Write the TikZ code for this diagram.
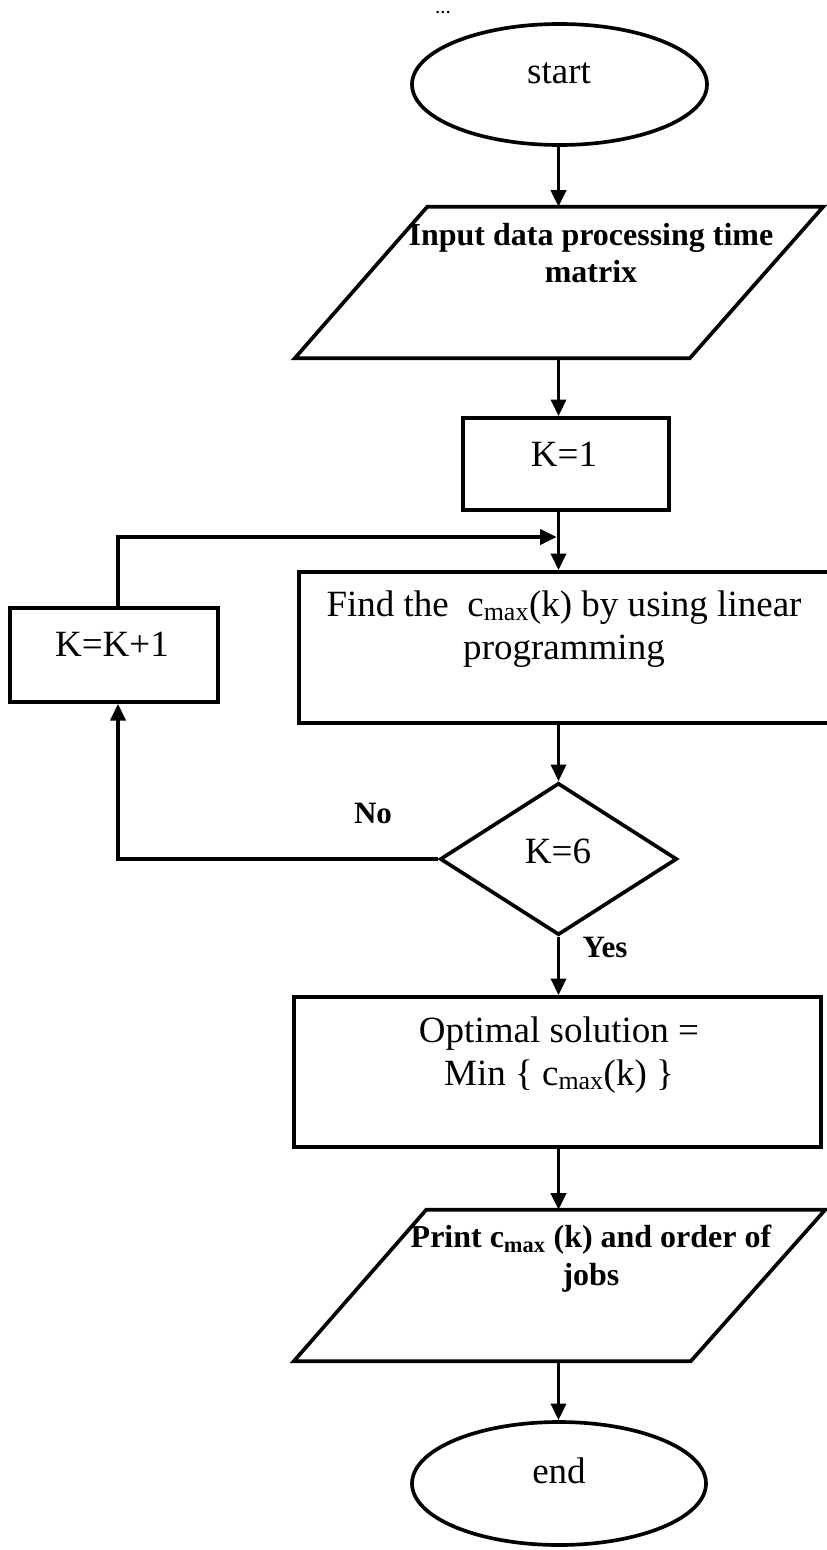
\documentclass[tikz,border=0pt]{standalone}
\usepackage{fontspec}
\setmainfont{Liberation Serif}
\usetikzlibrary{shapes.geometric,arrows.meta}
\newlength{\px}\setlength{\px}{0.03cm}
\tikzset{
  stroke/.style={line width=0.11cm},
  flow/.style={stroke, -{Triangle[length=0.5cm,width=0.45cm]}},
  termbox/.style={ellipse, draw, stroke, inner sep=0pt},
  procbox/.style={rectangle, draw, stroke, inner sep=0pt},
  ioframe/.style={rectangle, inner sep=0pt},
  testbox/.style={diamond, draw, stroke, inner sep=0pt},
  plain/.style={font=\fontsize{31.6pt}{36.7pt}\selectfont, inner sep=0pt, anchor=base, align=center},
  heavy/.style={font=\bfseries\fontsize{27.3pt}{31.6pt}\selectfont, inner sep=0pt, anchor=base, align=center},
  tag/.style={font=\bfseries\fontsize{26.5pt}{30pt}\selectfont, inner sep=0pt, anchor=base},
}
\begin{document}
\begin{tikzpicture}[x=0.03cm, y=-0.03cm]
\useasboundingbox (0,0) rectangle (826,1550);
\coordinate (axis) at (558.5,0);
\coordinate (loop) at (118,0);
\coordinate (merge) at (556.8,537);

% shapes
\node[termbox, minimum width=295\px, minimum height=121\px] (start) at (559.5,84.5) {};
\node[ioframe, minimum width=528\px, minimum height=151\px] (input) at (559,282.5) {};
\draw[stroke, line join=miter] (input.south west) -- ++(395,0) -- (input.north east) -- ++(-396,0) -- cycle;
\node[procbox, minimum width=206\px, minimum height=92\px] (k1) at (566,464) {};
\node[procbox, minimum width=530\px, minimum height=151\px] (find) at (564,647.5) {};
\node[procbox, minimum width=208\px, minimum height=94\px] (inc) at (114,655) {};
\node[testbox, minimum width=237\px, minimum height=152\px] (dec) at (558.5,859) {};
\node[procbox, minimum width=527\px, minimum height=150\px] (opt) at (557.5,1072) {};
\node[ioframe, minimum width=531\px, minimum height=151\px] (print) at (559.5,1285.5) {};
\draw[stroke, line join=miter] (print.south west) -- ++(397,0) -- (print.north east) -- ++(-399,0) -- cycle;
\node[termbox, minimum width=294\px, minimum height=123\px] (end) at (559,1483.5) {};

% texts (multi-line nodes sit on the baseline of their last line)
\node[font=\fontsize{18pt}{20pt}\selectfont, inner sep=0pt, anchor=base] (dots) at (443,14) {...};
\node[plain] (tstart) at (559,84) {start};
\node[heavy] (tinput) at (591,283) {Input data processing time\\matrix};
\node[plain] (tk1) at (564,466) {K=1};
\node[plain] (tfind) at (564,659) {Find the\ \ c\textsubscript{max}(k) by using linear\\programming};
\node[plain] (tinc) at (112,656) {K=K+1};
\node[plain] (tdec) at (558,863) {K=6};
\node[plain] (topt) at (559,1085) {Optimal solution =\\Min \{ c\textsubscript{max}(k) \}};
\node[heavy] (tprint) at (591,1285) {Print c\textsubscript{max} (k) and order of\\jobs};
\node[plain] (tend) at (559,1483) {end};
\node[tag] (no) at (373,823) {No};
\node[tag] (yes) at (605,957) {Yes};

% connectors
\draw[flow] (start.south -| axis) -- (input.north -| axis);
\draw[flow] (input.south -| axis) -- (k1.north -| axis);
\draw[flow] (k1.south -| axis) -- (find.north -| axis);
\draw[flow] (inc.north -| loop) |- (merge);
\draw[flow] (find.south -| axis) -- (dec.north);
\draw[flow] (dec.south) -- (opt.north -| axis);
\draw[flow] (dec.west) -| (inc.south -| loop);
\draw[flow] (opt.south -| axis) -- (print.north -| axis);
\draw[flow] (print.south -| axis) -- (end.north -| axis);
\end{tikzpicture}
\end{document}
